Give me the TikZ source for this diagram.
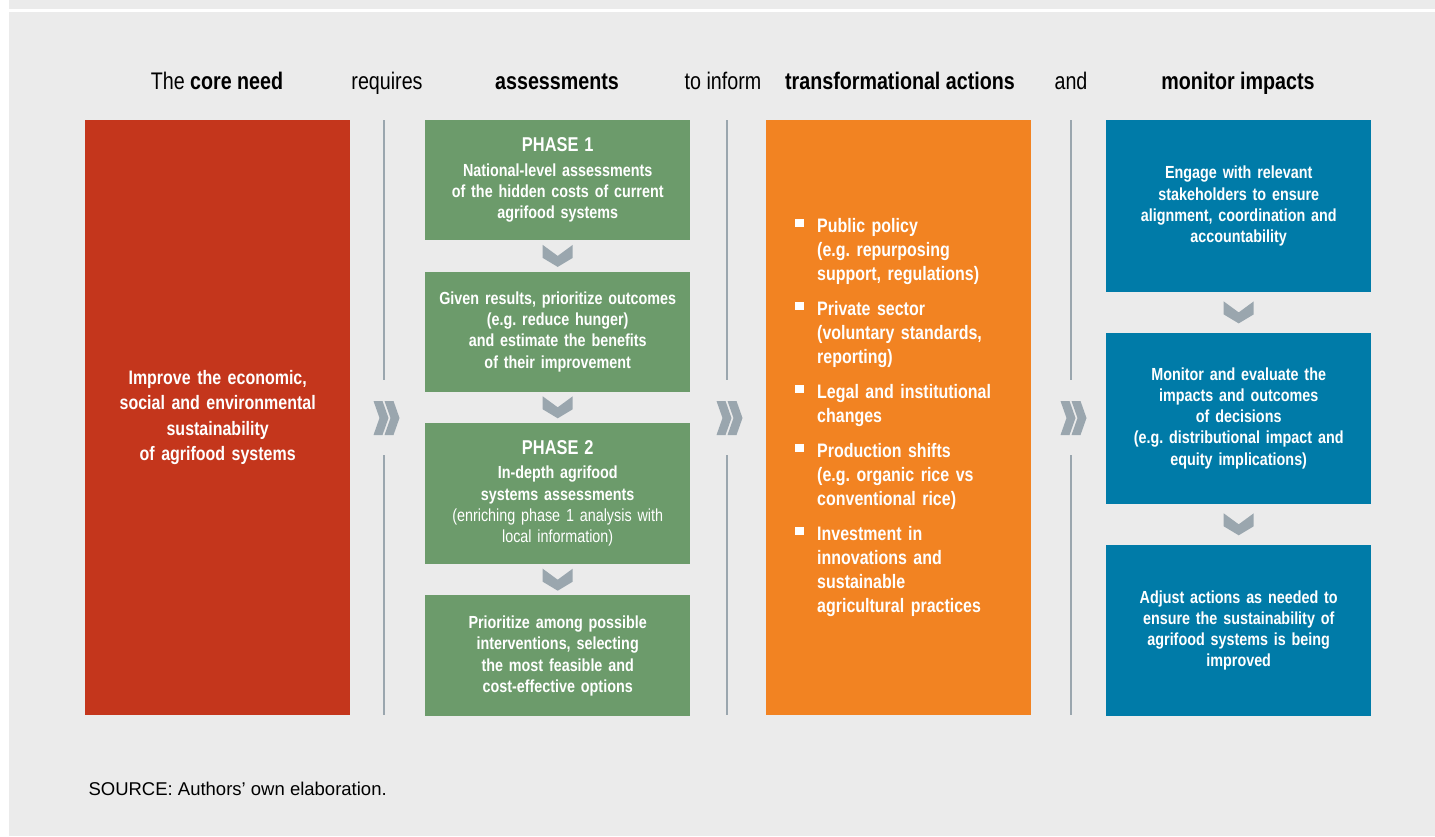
\documentclass[tikz,border=0pt]{standalone}
\usepackage{fontspec}
\setmainfont{Liberation Sans}[FakeStretch=0.82]
\newfontfamily\sourcefont{Liberation Sans}
\usetikzlibrary{positioning,calc}
\definecolor{corered}{HTML}{C4361C}
\definecolor{assessgreen}{HTML}{6C9B6B}
\definecolor{actorange}{HTML}{F28322}
\definecolor{monblue}{HTML}{007BA8}
\definecolor{panelgray}{HTML}{EBEBEB}
\definecolor{chevgray}{HTML}{9AA6AE}
\newcommand\itembul{\makebox[22pt][l]{\rule[5.5pt]{8.5pt}{8.5pt}}}
\newcommand\itemind{\hspace*{22pt}}
\frenchspacing
\begin{document}
\begin{tikzpicture}[x=1pt,y=-1pt,
    box/.style={anchor=north west,inner sep=0pt,text width=265pt,align=center,text=white,
      font=\bfseries\fontsize{17.5}{21.3}\selectfont},
    head/.style={anchor=base,font=\fontsize{24}{28}\selectfont},
    divider/.style={chevgray,line width=2.5pt},
    node distance=31pt,
    downchev/.pic={\fill[chevgray] (-15,-11) -- (0,0) -- (15,-11) -- (15,2) -- (0,11) -- (-15,2) -- cycle;},
    rightchev/.pic={\foreach \dx in {-13,-2}
      \fill[chevgray] (\dx,-17) -- ++(9,0) -- ++(6,17) -- ++(-6,17) -- ++(-9,0) -- ++(6,-17) -- cycle;}]
  % panel
  \fill[white] (0,0) rectangle (1435,836);
  \fill[panelgray] (9,0) rectangle (1435,836);
  \fill[white] (9,9) rectangle (1435,11.5);
  \useasboundingbox (0,0) rectangle (1435,836);
  % headings
  \node[head] (hcore) at (217,89) {The \textbf{core need}};
  \node[head] (hreq) at (387,89) {requires};
  \node[head] (hassess) at (557,89) {\textbf{assessments}};
  \node[head] (hinform) at (723,89) {to inform};
  \node[head] (hact) at (900,89) {\textbf{transformational actions}};
  \node[head] (hand) at (1071,89) {and};
  \node[head] (hmon) at (1238,89) {\textbf{monitor impacts}};
  % core need
  \node[box,fill=corered,minimum height=595pt,font=\bfseries\fontsize{19.5}{25.5}\selectfont] (core) at (85,120)
    {Improve the economic,\\social and environmental\\sustainability\\of agrifood systems};
  % assessments
  \node[box,fill=assessgreen,minimum height=120pt] (phase1) at (425,120)
    {{\fontsize{20}{24}\selectfont PHASE 1}\\[3pt]National-level assessments\\of the hidden costs of current\\agrifood systems};
  \node[box,fill=assessgreen,minimum height=120pt,below=of phase1] (prio)
    {Given results, prioritize outcomes\\(e.g. reduce hunger)\\and estimate the benefits\\of their improvement};
  \node[box,fill=assessgreen,minimum height=141pt,below=of prio] (phase2)
    {{\fontsize{20}{24}\selectfont PHASE 2}\\[3pt]In-depth agrifood\\systems assessments\\\textmd{(enriching phase 1 analysis with}\\\textmd{local information)}};
  \node[box,fill=assessgreen,minimum height=121pt,below=of phase2] (options)
    {Prioritize among possible\\interventions, selecting\\the most feasible and\\cost-effective options};
  % transformational actions
  \node[box,fill=actorange,minimum height=595pt,text width=207pt,inner xsep=29pt,align=left,
    font=\bfseries\fontsize{19.5}{24}\selectfont] (actions) at (766,120)
    {\itembul Public policy\\\itemind (e.g. repurposing\\\itemind support, regulations)\\[11pt]
     \itembul Private sector\\\itemind (voluntary standards,\\\itemind reporting)\\[11pt]
     \itembul Legal and institutional\\\itemind changes\\[11pt]
     \itembul Production shifts\\\itemind (e.g. organic rice vs\\\itemind conventional rice)\\[11pt]
     \itembul Investment in\\\itemind innovations and\\\itemind sustainable\\\itemind agricultural practices};
  % monitor impacts
  \node[box,fill=monblue,minimum height=172pt] (engage) at (1106,120)
    {Engage with relevant\\stakeholders to ensure\\alignment, coordination and\\accountability};
  \node[box,fill=monblue,minimum height=171pt,below=40pt of engage] (evaluate)
    {Monitor and evaluate the\\impacts and outcomes\\of decisions\\(e.g. distributional impact and\\equity implications)};
  \node[box,fill=monblue,minimum height=171pt,below=41pt of evaluate] (adjust)
    {Adjust actions as needed to\\ensure the sustainability of\\agrifood systems is being\\improved};
  % chevrons between steps
  \foreach \a/\b in {phase1/prio,prio/phase2,phase2/options,engage/evaluate,evaluate/adjust}
    \path ($(\a.south)!0.5!(\b.north)$) pic{downchev};
  % dividers between columns
  \foreach \x in {384,727,1071} {
    \draw[divider] (\x,120) -- (\x,380);
    \draw[divider] (\x,455) -- (\x,715);
    \path (\x+2.5,418) pic{rightchev};
  }
  \node[anchor=base west,font=\sourcefont\fontsize{18.5}{22}\selectfont] (source) at (85,795)
    {SOURCE: Authors’ own elaboration.};
\end{tikzpicture}
\end{document}
